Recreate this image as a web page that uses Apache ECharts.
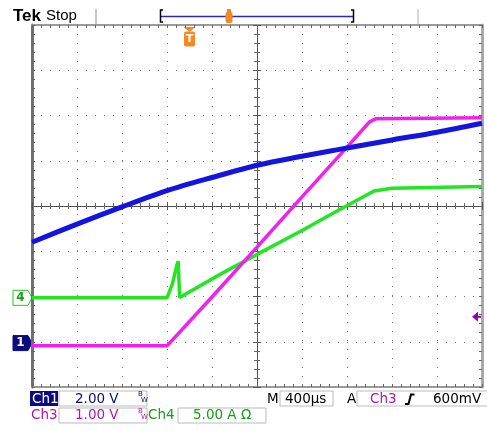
<!DOCTYPE html>
<html>
<head>
<meta charset="utf-8">
<script src="https://cdn.jsdelivr.net/npm/echarts@6/dist/echarts.min.js"></script>
<style>
html, body { margin: 0; padding: 0; background: #fff; }
#main { width: 487px; height: 431px; }
</style>
</head>
<body>
<div id="main"></div>
<script>
// screen units are graticule divisions: x 0..10, y -4..4 (0 = centre line)
const ch1Data = [
    [0, -0.8], [1, -0.4], [2, -0.02], [3, 0.34], [4, 0.63], [5, 0.9],
    [6, 1.1], [6.6, 1.21], [7, 1.28], [8, 1.46], [9, 1.63], [10, 1.83]
];
const ch3Data = [
    [0, -3.09], [3.0, -3.09], [4, -2.01], [5, -0.91], [6, 0.2],
    [7, 1.3], [7.5, 1.86], [7.65, 1.93], [10, 1.95]
];
const ch4Data = [
    [0, -2.03], [3.0, -2.03], [3.12, -1.72], [3.22, -1.3], [3.25, -1.22],
    [3.28, -2.02], [3.31, -1.99], [4.2, -1.5], [5, -1.07], [6, -0.54],
    [6.8, -0.1], [7.6, 0.33], [8.0, 0.39], [10, 0.43]
];

const ch1Ground = -3.03;
const ch4Ground = -2.03;
const triggerTime = 3.5;
const triggerLevel = -2.45;

const FONT = '"DejaVu Sans", sans-serif';
const NAVY = '#0c0c80';
const MAGENTA = '#b414b4';
const GREEN = '#14a014';

const chart = echarts.init(document.getElementById('main'));

function scopeAxis(extra) {
    return Object.assign({
        type: 'value',
        axisLabel: { show: false },
        axisTick: { inside: true, length: 3, lineStyle: { color: '#666' } },
        minorTick: { show: true, splitNumber: 5, length: 3, lineStyle: { color: '#666' } },
        splitLine: { show: false }
    }, extra);
}

const xBase = { min: 0, max: 10, interval: 1 };
const yBase = { min: -4, max: 4, interval: 1 };
const dotted = { show: true, lineStyle: { color: '#777', type: [1, 8] } };
const centreLine = { color: '#444', type: [1, 1], width: 1 };

const option = {
    animation: false,
    backgroundColor: '#fff',
    grid: { left: 32, top: 25, width: 450, height: 362, containLabel: false },
    xAxis: [
        scopeAxis(Object.assign({}, xBase, {
            position: 'bottom',
            axisLine: { onZero: false, lineStyle: { color: '#9a9a9a', width: 2 } },
            splitLine: dotted
        })),
        scopeAxis(Object.assign({}, xBase, {
            position: 'top',
            axisLine: { onZero: false, lineStyle: { color: '#9a9a9a', width: 2 } }
        })),
        scopeAxis(Object.assign({}, xBase, {
            position: 'bottom',
            axisLine: { onZero: true, onZeroAxisIndex: 0, lineStyle: centreLine },
            axisTick: { inside: true, length: 4, lineStyle: { color: '#555' } }
        })),
        scopeAxis(Object.assign({}, xBase, {
            position: 'top',
            axisLine: { onZero: true, onZeroAxisIndex: 0, lineStyle: centreLine },
            axisTick: { inside: true, length: 4, lineStyle: { color: '#555' } }
        })),
        { type: 'value', min: -5, max: 5, show: false }
    ],
    yAxis: [
        scopeAxis(Object.assign({}, yBase, {
            position: 'left',
            axisLine: { onZero: false, lineStyle: { color: '#707070', width: 3 } },
            splitLine: dotted
        })),
        scopeAxis(Object.assign({}, yBase, {
            position: 'right',
            axisLine: { onZero: false, lineStyle: { color: '#aaa', width: 3 } }
        })),
        scopeAxis(Object.assign({}, yBase, {
            position: 'left',
            axisLine: { onZero: true, onZeroAxisIndex: 4, lineStyle: centreLine },
            axisTick: { inside: true, length: 4, lineStyle: { color: '#555' } }
        })),
        scopeAxis(Object.assign({}, yBase, {
            position: 'right',
            axisLine: { onZero: true, onZeroAxisIndex: 4, lineStyle: centreLine },
            axisTick: { inside: true, length: 4, lineStyle: { color: '#555' } }
        }))
    ],
    series: [
        {
            name: 'Ch4', type: 'line', data: ch4Data, showSymbol: false,
            lineStyle: { color: '#22e622', width: 3.5 }
        },
        {
            name: 'Ch3', type: 'line', data: ch3Data, showSymbol: false,
            lineStyle: { color: '#f020f0', width: 3.5 }
        },
        {
            name: 'Ch1', type: 'line', data: ch1Data, showSymbol: false, smooth: 0.3,
            lineStyle: { color: '#1414e0', width: 5 }
        }
    ]
};

chart.setOption(option);

// pixel positions of the reference markers, through the axes
const px = (x, y) => chart.convertToPixel({ xAxisIndex: 0, yAxisIndex: 0 }, [x, y]);
const y4 = px(0, ch4Ground)[1];
const y1 = px(0, ch1Ground)[1];
const yTrig = px(0, triggerLevel)[1];
const xTrig = px(triggerTime, 0)[0];

function txt(x, y, text, fill, font, align) {
    return { type: 'text', x: x, y: y, style: { text: text, fill: fill, font: font || ('13.5px ' + FONT), align: align || 'left', verticalAlign: 'middle' } };
}
function box(x, y, w, h, fill, stroke) {
    return { type: 'rect', shape: { x: x, y: y, width: w, height: h }, style: { fill: fill || 'none', stroke: stroke || '#bbb', lineWidth: 1 } };
}
function marker(y, fill, stroke) {
    return {
        type: 'polygon',
        shape: { points: [[13, y - 7.5], [28, y - 7.5], [32, y], [28, y + 7.5], [13, y + 7.5]] },
        style: { fill: fill, stroke: stroke, lineWidth: 1 }
    };
}

const orange = '#f5891e';

chart.setOption({
    graphic: [
        // header
        txt(13, 16, 'Tek', '#000', 'bold 17px "Liberation Sans", sans-serif'),
        txt(46, 16, 'Stop', '#000', '15px "Liberation Sans", sans-serif'),
        { type: 'rect', shape: { x: 95, y: 9, width: 2, height: 15 }, style: { fill: '#c8c8c8' } },
        { type: 'rect', shape: { x: 417, y: 9, width: 2, height: 15 }, style: { fill: '#d8d8d8' } },
        { type: 'line', shape: { x1: 161, y1: 16.5, x2: 353, y2: 16.5 }, style: { stroke: '#2a2ab4', lineWidth: 1.5 } },
        { type: 'polyline', shape: { points: [[163, 10], [160.5, 10], [160.5, 22], [163, 22]] }, style: { stroke: '#000', lineWidth: 1.5, fill: 'none' } },
        { type: 'polyline', shape: { points: [[351, 10], [353.5, 10], [353.5, 22], [351, 22]] }, style: { stroke: '#000', lineWidth: 1.5, fill: 'none' } },
        { type: 'rect', shape: { x: 227, y: 9, width: 4, height: 4 }, style: { fill: orange } },
        { type: 'rect', shape: { x: 225.5, y: 12, width: 7, height: 11, r: 2 }, style: { fill: orange } },
        // trigger position marker
        { type: 'polygon', shape: { points: [[xTrig - 6, 27], [xTrig + 6, 27], [xTrig, 32]] }, style: { fill: orange } },
        { type: 'rect', shape: { x: xTrig - 5.5, y: 31.5, width: 11, height: 15, r: 2 }, style: { fill: orange } },
        txt(xTrig, 39.5, 'T', '#fff', 'bold 11px ' + FONT, 'center'),
        // channel ground markers
        marker(y4, '#fff', '#22c822'),
        txt(20.5, y4, '4', GREEN, 'bold 12px ' + FONT, 'center'),
        marker(y1, NAVY, NAVY),
        txt(20.5, y1, '1', '#fff', 'bold 12px ' + FONT, 'center'),
        // trigger level marker
        { type: 'polygon', shape: { points: [[472, yTrig], [478, yTrig - 5], [478, yTrig + 5]] }, style: { fill: '#8c0aa0' } },
        { type: 'line', shape: { x1: 476, y1: yTrig, x2: 482, y2: yTrig }, style: { stroke: '#8c0aa0', lineWidth: 2 } },
        // status line, row 1
        { type: 'rect', shape: { x: 30, y: 391, width: 28, height: 15 }, style: { fill: NAVY } },
        txt(32, 399, 'Ch1', '#fff'),
        box(59, 391, 88, 15),
        txt(75, 399, '2.00 V', NAVY),
        txt(138, 394, 'B', NAVY, '7px ' + FONT),
        txt(141, 400, 'W', NAVY, '7px ' + FONT),
        txt(267, 399, 'M', '#000'),
        box(280, 391, 53, 15),
        txt(285, 399, '400µs', '#000'),
        txt(347, 399, 'A', '#000'),
        box(357, 391, 131, 15),
        txt(370, 399, 'Ch3', MAGENTA),
        { type: 'polyline', shape: { points: [[405, 404], [408.5, 404], [411, 394.5], [414.5, 394.5]] }, style: { stroke: '#000', lineWidth: 2, fill: 'none' } },
        txt(433, 399, '600mV', '#000'),
        // status line, row 2
        txt(31, 415.5, 'Ch3', MAGENTA),
        box(59, 408, 88, 15),
        txt(75, 415.5, '1.00 V', MAGENTA),
        txt(138, 411, 'B', MAGENTA, '7px ' + FONT),
        txt(141, 417, 'W', MAGENTA, '7px ' + FONT),
        txt(148, 415.5, 'Ch4', GREEN),
        box(178, 408, 88, 15),
        txt(193, 415.5, '5.00 A Ω', GREEN)
    ]
});
</script>
</body>
</html>
